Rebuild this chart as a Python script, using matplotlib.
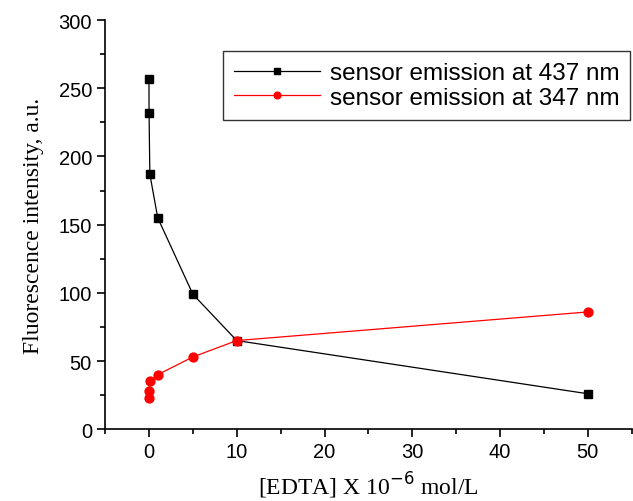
import matplotlib.pyplot as plt
from matplotlib.ticker import MultipleLocator

# EDTA concentration (x 10^-6 mol/L) and fluorescence readings
edta_437 = [0, 0.01, 0.1, 1, 5, 10, 50]
intensity_437 = [257, 232, 187, 155, 99, 65, 26]

edta_347 = [0, 0.01, 0.1, 1, 5, 10, 50]
intensity_347 = [23, 28, 35, 40, 53, 65, 86]

plt.rcParams['font.family'] = ['Liberation Sans', 'DejaVu Sans']

fig = plt.figure(figsize=(6.33, 5.02), dpi=100)
ax = fig.add_axes([0.166, 0.143, 0.832, 0.815])

ax.plot(edta_437, intensity_437, color='black', lw=0.9, marker='s', ms=5.8,
        label='sensor emission at 437 nm')
ax.plot(edta_347, intensity_347, color='red', lw=0.9, marker='o', ms=6.4,
        label='sensor emission at 347 nm')

ax.set_xlim(-5, 55)
ax.set_ylim(0, 300)
ax.xaxis.set_major_locator(MultipleLocator(10))
ax.xaxis.set_minor_locator(MultipleLocator(5))
ax.yaxis.set_major_locator(MultipleLocator(50))
ax.yaxis.set_minor_locator(MultipleLocator(25))

for side in ['top', 'right']:
    ax.spines[side].set_visible(False)
for side in ['left', 'bottom']:
    ax.spines[side].set_linewidth(1.2)
ax.tick_params(which='major', direction='out', length=6, width=1.2, labelsize=14.5)
ax.tick_params(which='minor', direction='out', length=3.5, width=1.2)

ax.set_xlabel('[EDTA] X 10$^{-6}$ mol/L', family='Liberation Serif', fontsize=17,
              labelpad=6)
ax.set_ylabel('Fluorescence intensity, a.u.', family='Liberation Serif', fontsize=17,
              labelpad=10)

leg = ax.legend(loc='upper right', bbox_to_anchor=(0.997, 0.924), borderaxespad=0,
                fontsize=17.5, frameon=True, fancybox=False, edgecolor='black',
                markerscale=0.75, handlelength=3.55, handletextpad=0.4,
                borderpad=0.45, labelspacing=0.1)
leg.get_frame().set_linewidth(1.0)

fig.savefig('out.png', dpi=100)
